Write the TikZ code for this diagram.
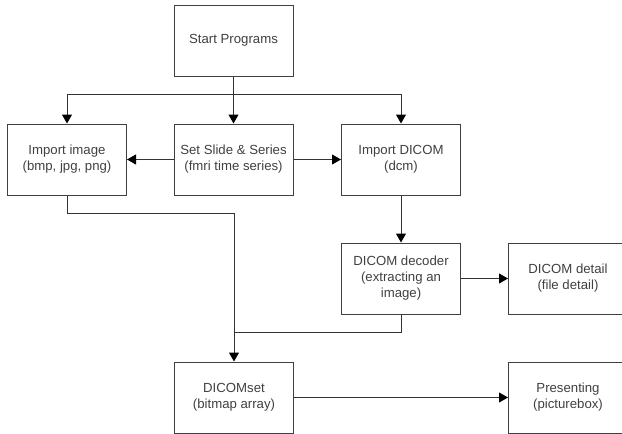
\documentclass[tikz,border=0pt]{standalone}
\usepackage{fontspec}
\setmainfont{Liberation Sans}
\usetikzlibrary{arrows.meta}
\begin{document}
\begin{tikzpicture}[x=1pt,y=-1pt,
  box/.style={draw=black!75, line width=1pt, minimum width=119pt, minimum height=71pt, inner sep=0pt,
    text=black!75, align=center, font=\fontsize{13.2}{16}\selectfont},
  conn/.style={draw=black!80, line width=1pt},
  arr/.style={conn, -{Triangle[length=9pt,width=10pt,color=black]}}]
\useasboundingbox (0,0) rectangle (622,434);
\begin{scope}
\clip (0,0) rectangle (622,434);
\node[box] (start) at (233.5,40.5) {Start Programs};
\node[box] (imp) at (67,159.5) {Import image\\(bmp, jpg, png)};
\node[box] (set) at (233.5,159.5) {Set Slide \& Series\\(fmri time series)};
\node[box] (dicom) at (401,159.5) {Import DICOM\\(dcm)};
\node[box] (dec) at (401,278.5) {DICOM decoder\\(extracting an\\image)};
\node[box] (det) at (568,278.5) {DICOM detail\\(file detail)};
\node[box] (dset) at (234,397.5) {DICOMset\\(bitmap array)};
\node[box] (pres) at (568,397.5) {Presenting\\(picturebox)};
\coordinate (br) at (233.5,94);
\draw[arr] (start.south) -- (set.north);
\draw[arr] (br) -| (imp.north);
\draw[arr] (br) -| (dicom.north);
\draw[arr] (set.west) -- (imp.east);
\draw[arr] (set.east) -- (dicom.west);
\draw[arr] (dicom.south) -- (dec.north);
\draw[arr] (dec.east) -- (det.west);
\draw[arr] (imp.south) |- (234,213) -- (dset.north);
\draw[conn] (dec.south) |- (234,332);
\draw[arr] (dset.east) -- (pres.west);
\end{scope}
\end{tikzpicture}
\end{document}
